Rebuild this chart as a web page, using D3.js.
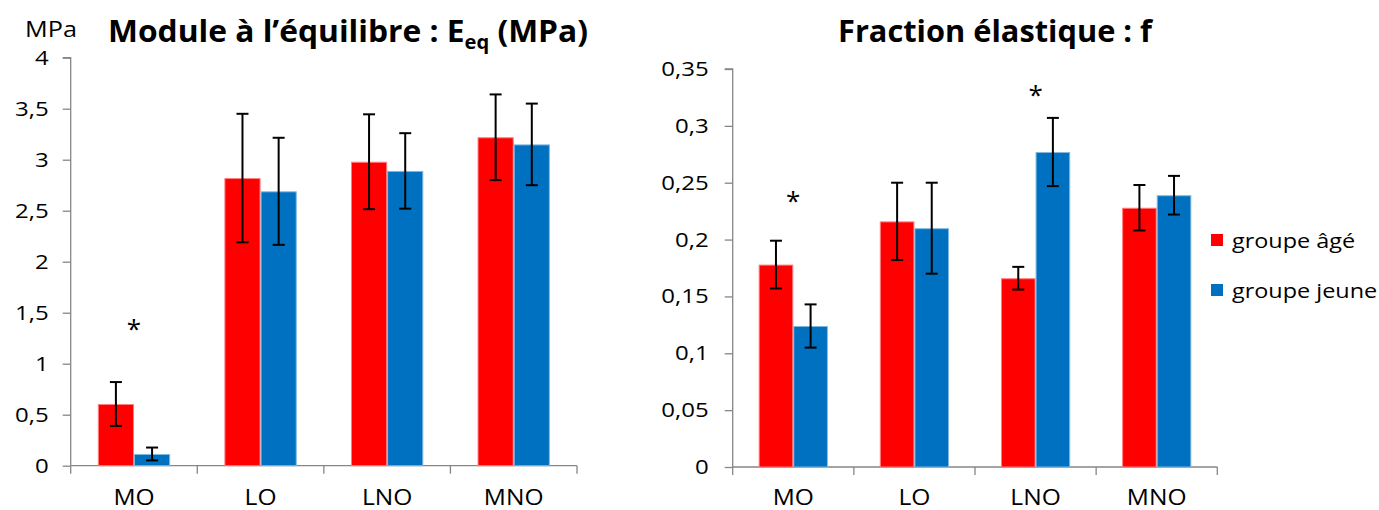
<!DOCTYPE html>
<html><head><meta charset="utf-8">
<script src="https://cdn.jsdelivr.net/npm/d3@7"></script>
<style>
html,body{margin:0;padding:0;background:#fff;}
svg text{font-family:"Open Sans","Noto Sans",sans-serif;fill:#000;}
</style></head>
<body><svg id="c" width="1379" height="510"></svg>
<script>
const categories = ["MO","LO","LNO","MNO"];
const seriesNames = ["groupe âgé","groupe jeune"];
const seriesColors = ["#FF0000","#0070C0"];
const seriesEdges = ["#FF7F7F","#7FB8E0"];
// Left chart: Module à l'équilibre (MPa)
const eqOld = [0.605, 2.82, 2.98, 3.22];
const eqOldErr = [0.215, 0.63, 0.465, 0.42];
const eqYoung = [0.115, 2.69, 2.89, 3.15];
const eqYoungErr = [0.063, 0.525, 0.37, 0.40];
const eqTicks = [0,0.5,1,1.5,2,2.5,3,3.5,4];
// Right chart: Fraction élastique
const fOld = [0.178, 0.216, 0.166, 0.228];
const fOldErr = [0.021, 0.034, 0.010, 0.020];
const fYoung = [0.124, 0.210, 0.277, 0.239];
const fYoungErr = [0.019, 0.040, 0.030, 0.017];
const fTicks = [0,0.05,0.1,0.15,0.2,0.25,0.3,0.35];
// significance markers
const eqStars = [{cat:"MO", v:1.35}];
const fStars = [{cat:"MO", v:0.235},{cat:"LNO", v:0.328}];

const svg = d3.select("#c");
const fmt = v => String(v).replace(".", ",");
const K = 1.17; // horizontal stretch of the reference's text
function stretch(sel, k){
  sel.each(function(){
    const w = this.getComputedTextLength();
    d3.select(this).attr("textLength", w*k).attr("lengthAdjust","spacingAndGlyphs");
  });
}

function drawChart(o){
  const g = svg.append("g");
  const x = d3.scaleBand().domain(categories).range([o.x0, o.x1]).padding(0);
  const y = d3.scaleLinear().domain([0, o.max]).range([o.yb, o.yt]);
  const bw = x.bandwidth()/3.5;
  const sub = d3.scaleBand().domain([0,1]).range([x.bandwidth()/2 - bw, x.bandwidth()/2 + bw]);
  const series = [[o.a, o.ae],[o.b, o.be]];
  const ya = g.append("g").attr("transform",`translate(${o.x0},0)`)
    .call(d3.axisLeft(y).tickValues(o.ticks).tickSize(8).tickPadding(o.pad).tickFormat(fmt));
  ya.select(".domain").attr("stroke","#868686").attr("stroke-width",1.3).attr("d",`M-8,${o.yt}H0V${o.yb}`);
  ya.selectAll(".tick line").attr("stroke","#868686").attr("stroke-width",1.3);
  ya.selectAll(".tick text").style("font-size","20.5px").call(stretch, K);
  const xa = g.append("g").attr("transform",`translate(0,${o.yb})`)
    .call(d3.axisBottom(x).tickSize(0).tickPadding(o.xpad));
  xa.select(".domain").attr("stroke","#868686").attr("stroke-width",1.3).attr("d",`M${o.x0},0H${o.x1}`);
  xa.selectAll(".tick text").style("font-size","21px").call(stretch, K);
  const bounds = categories.map(c=>x(c)).concat([o.x1]);
  g.append("g").selectAll("line").data(bounds).join("line")
    .attr("x1",d=>d).attr("x2",d=>d).attr("y1",o.yb).attr("y2",o.yb+8)
    .attr("stroke","#868686").attr("stroke-width",1.3);
  series.forEach((s,si)=>{
    g.append("g").selectAll("rect").data(categories).join("rect")
      .attr("x",(c)=>x(c)+sub(si)+0.5).attr("width",bw-1)
      .attr("y",(c,i)=>y(s[0][i])+0.5).attr("height",(c,i)=>y(0)-y(s[0][i])-0.5)
      .attr("fill",seriesColors[si]).attr("stroke",seriesEdges[si]).attr("stroke-width",1);
    const eg = g.append("g").attr("stroke","#000").attr("stroke-width",2);
    categories.forEach((c,i)=>{
      const cx = x(c)+sub(si)+bw/2;
      const hi = y(s[0][i]+s[1][i]), lo = y(s[0][i]-s[1][i]);
      eg.append("line").attr("x1",cx).attr("x2",cx).attr("y1",hi).attr("y2",lo);
      eg.append("line").attr("x1",cx-6).attr("x2",cx+6).attr("y1",hi).attr("y2",hi);
      eg.append("line").attr("x1",cx-6).attr("x2",cx+6).attr("y1",lo).attr("y2",lo);
    });
  });
  o.stars.forEach(st=>{
    g.append("text").attr("x", x(st.cat)+x.bandwidth()/2).attr("y", y(st.v))
      .attr("text-anchor","middle").attr("dominant-baseline","central")
      .style("font-size","26px").text("*");
  });
}

drawChart({x0:70.7, x1:577, yb:465.7, yt:57.7, max:4, ticks:eqTicks, pad:14, xpad:24,
  a:eqOld, ae:eqOldErr, b:eqYoung, be:eqYoungErr, stars:eqStars});
drawChart({x0:732.7, x1:1217.3, yb:467, yt:69, max:0.35, ticks:fTicks, pad:16, xpad:23,
  a:fOld, ae:fOldErr, b:fYoung, be:fYoungErr, stars:fStars});

// titles
const t1 = svg.append("text").attr("x",348).attr("y",42).attr("text-anchor","middle")
  .style("font-size","30px").style("font-weight","bold")
  .attr("textLength",480).attr("lengthAdjust","spacingAndGlyphs");
t1.append("tspan").text("Module à l’équilibre : E");
t1.append("tspan").attr("dy",7).style("font-size","19px").text("eq");
t1.append("tspan").attr("dy",-7).text(" (MPa)");
svg.append("text").attr("x",995).attr("y",42).attr("text-anchor","middle")
  .style("font-size","30px").style("font-weight","bold")
  .attr("textLength",314).attr("lengthAdjust","spacingAndGlyphs").text("Fraction élastique : f");
svg.append("text").attr("x",51).attr("y",37).attr("text-anchor","middle")
  .style("font-size","21px").text("MPa").call(stretch, 1.2);

// legend
const lg = svg.append("g");
seriesNames.forEach((n,i)=>{
  const yy = 240 + i*50;
  lg.append("rect").attr("x",1211).attr("y",yy-6).attr("width",12).attr("height",12).attr("fill",seriesColors[i]);
  lg.append("text").attr("x",1232).attr("y",yy).attr("dominant-baseline","central")
    .style("font-size","20px").text(n).call(stretch, K);
});
</script></body></html>
